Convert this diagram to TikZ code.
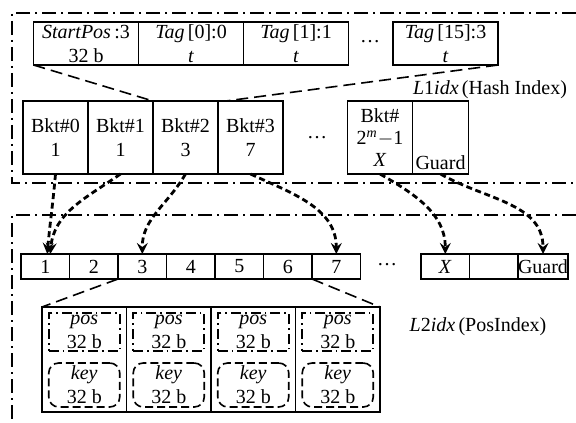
\documentclass[tikz,border=0pt]{standalone}
\usepackage{fontspec}
\setmainfont{Liberation Serif}
\usetikzlibrary{positioning}

\begin{document}
\begin{tikzpicture}[
  x=0.5pt, y=-0.5pt,
  >=stealth,
  cell/.style={draw, line width=0.7pt, inner sep=0pt, outer sep=0pt, align=center, font=\fontsize{10}{12}\selectfont},
  tagcell/.style={cell, minimum width=52.5pt, minimum height=21.5pt},
  bktcell/.style={cell, minimum width=32.5pt, minimum height=36.5pt},
  slot/.style={cell, minimum width=24.25pt, minimum height=12.5pt},
  postcell/.style={cell, minimum width=42.25pt, minimum height=52.5pt},
  posbox/.style={cell, line width=0.8pt, dash pattern=on 5pt off 2pt on 0.8pt off 2pt, minimum width=35.5pt, minimum height=19pt},
  keybox/.style={cell, line width=0.8pt, dash pattern=on 4pt off 2pt, rounded corners=5pt, minimum width=35.5pt, minimum height=22pt},
  frame/.style={line width=1pt, dash pattern=on 7pt off 2.5pt on 1pt off 2.5pt},
  zoomline/.style={line width=0.8pt, dash pattern=on 6pt off 3pt},
  ptr/.style={->, line width=1.4pt, dash pattern=on 3pt off 1.8pt},
  gap/.style={font=\fontsize{10}{12}\selectfont}
]
  \useasboundingbox (0,0) rectangle (576,422);
  % level 1 and level 2 frames
  \draw[frame] (576,13) -- (12,13) -- (12,183) -- (576,183);
  \draw[frame] (576,215) -- (12,215) -- (12,422);

  % bucket contents
  \node[tagcell] (S) at (86,43.5) {\textit{StartPos}\,:3\\32 b};
  \node[tagcell, right=0pt of S] (T0) {\textit{Tag}\,[0]:0\\\textit{t}};
  \node[tagcell, right=0pt of T0] (T1) {\textit{Tag}\,[1]:1\\\textit{t}};
  \node[gap] (dotsA) at (370,43.5) {\raisebox{2.5pt}{\dots}};
  \node[tagcell] (T15) at (445.5,43.5) {\textit{Tag}\,[15]:3\\\textit{t}};

  % hash index buckets
  \node[bktcell] (B0) at (55.5,137.5) {Bkt\#0\\1};
  \node[bktcell, right=0pt of B0] (B1) {Bkt\#1\\1};
  \node[bktcell, right=0pt of B1] (B2) {Bkt\#2\\3};
  \node[bktcell, right=0pt of B2] (B3) {Bkt\#3\\7};
  \node[gap] (dotsB) at (317,140) {\raisebox{2.5pt}{\dots}};
  \node[bktcell, font=\fontsize{10}{11}\selectfont] (BM) at (380,137.5) {Bkt\#\\2\textsuperscript{\textit{m}}$-$1\\\textit{X}};
  \node[bktcell, minimum width=28pt, right=0pt of BM, label={[anchor=south, inner sep=2pt]south:Guard}] (G) {};
  \node[gap] (L1) at (490,90) {\textit{L}1\textit{idx}\,(Hash Index)};

  \draw[zoomline] (S.south west) -- (B2.north west);
  \draw[zoomline] (T15.south east) -- ([xshift=4pt]B3.north west);

  % position index slots
  \node[slot] (C1) at (45.25,266.5) {1};
  \node[slot, right=0pt of C1] (C2) {2};
  \node[slot, right=0pt of C2] (C3) {3};
  \node[slot, right=0pt of C3] (C4) {4};
  \node[slot, right=0pt of C4] (C5) {5};
  \node[slot, right=0pt of C5] (C6) {6};
  \node[slot, right=0pt of C6] (C7) {7};
  \node[gap] (dotsC) at (387,266.5) {\raisebox{2.5pt}{\dots}};
  \node[slot] (CX) at (445.25,266.5) {\textit{X}};
  \node[slot, right=0pt of CX] (CE) {};
  \node[slot, right=0pt of CE] (CG) {Guard};
  \node[gap] (L2) at (478,327) {\textit{L}2\textit{idx}\,(PosIndex)};

  % pos/key entries
  \node[postcell] (P1) at (84.25,359.5) {};
  \node[postcell, right=0pt of P1] (P2) {};
  \node[postcell, right=0pt of P2] (P3) {};
  \node[postcell, right=0pt of P3] (P4) {};
  \node[posbox, below=3pt of P1.north] (pos1) {\textit{pos}\\32 b};
  \node[posbox, below=3pt of P2.north] (pos2) {\textit{pos}\\32 b};
  \node[posbox, below=3pt of P3.north] (pos3) {\textit{pos}\\32 b};
  \node[posbox, below=3pt of P4.north] (pos4) {\textit{pos}\\32 b};
  \node[keybox, below=6pt of pos1] (key1) {\textit{key}\\32 b};
  \node[keybox, below=6pt of pos2] (key2) {\textit{key}\\32 b};
  \node[keybox, below=6pt of pos3] (key3) {\textit{key}\\32 b};
  \node[keybox, below=6pt of pos4] (key4) {\textit{key}\\32 b};

  \draw[zoomline] (C3.south west) -- (P1.north west);
  \draw[zoomline] (C7.south west) -- (P4.north east);

  % bucket pointers
  \draw[ptr] (B0.south) to[out=-95, in=85] ([xshift=1pt]C1.north);
  \draw[ptr] (B1.south) to[out=-145, in=85] ([xshift=2.5pt]C1.north);
  \draw[ptr] (B2.south) to[out=-120, in=90] (C3.north);
  \draw[ptr] (B3.south) to[out=-25, in=90] (C7.north);
  \draw[ptr] (BM.south) to[out=-30, in=90] (CX.north);
  \draw[ptr] (G.south) to[out=-30, in=90] (CG.north);
\end{tikzpicture}
\end{document}
